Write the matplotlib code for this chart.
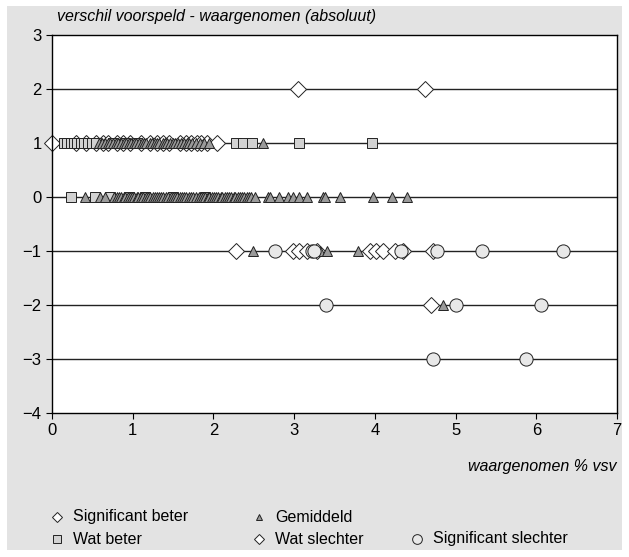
import matplotlib.pyplot as plt
from matplotlib.patches import Rectangle
from matplotlib.lines import Line2D

plt.rcParams['font.family'] = ['Liberation Sans', 'DejaVu Sans']

# Significant beter (diamonds, upper rows)
sig_beter_x = [3.05, 4.62,
               0.0, 0.30, 0.42, 0.55, 0.63, 0.70, 0.80, 0.88, 0.97, 1.10, 1.22, 1.30,
               1.38, 1.45, 1.58, 1.66, 1.72, 1.80, 1.85, 1.92, 2.05]
sig_beter_y = [2, 2,
               1, 1, 1, 1, 1, 1, 1, 1, 1, 1, 1, 1,
               1, 1, 1, 1, 1, 1, 1, 1, 1]

# Wat beter (squares)
wat_beter_x = [0.15, 0.19, 0.23, 0.27, 0.31, 0.36, 0.40, 0.45, 0.50, 0.54, 0.75, 0.90, 1.05,
               2.28, 2.37, 2.48, 3.06, 3.97,
               0.24, 0.53, 0.72, 0.95, 1.15, 1.50, 1.90]
wat_beter_y = [1, 1, 1, 1, 1, 1, 1, 1, 1, 1, 1, 1, 1,
               1, 1, 1, 1, 1,
               0, 0, 0, 0, 0, 0, 0]

# Gemiddeld (triangles)
gemiddeld_x = [0.58, 0.62, 0.66, 0.69, 0.72, 0.76, 0.79, 0.82, 0.86, 0.89, 0.92,
               0.95, 0.98, 1.01, 1.04, 1.08, 1.11, 1.14, 1.17, 1.21, 1.24, 1.27,
               1.30, 1.33, 1.37, 1.40, 1.43, 1.46, 1.50, 1.53, 1.56, 1.60, 1.63,
               1.67, 1.70, 1.74, 1.78, 1.83, 1.88, 1.95, 2.61,
               0.41, 0.60, 0.66, 0.77, 0.80, 0.83, 0.86, 0.89, 0.91, 0.94, 0.97,
               0.99, 1.02, 1.05, 1.07, 1.10, 1.13, 1.16, 1.19, 1.22, 1.25, 1.27,
               1.30, 1.33, 1.35, 1.38, 1.41, 1.44, 1.47, 1.50, 1.53, 1.55, 1.58,
               1.61, 1.63, 1.66, 1.70, 1.72, 1.75, 1.79, 1.82, 1.85, 1.87, 1.90,
               1.93, 1.95, 1.98, 2.01, 2.03, 2.06, 2.09, 2.11, 2.14, 2.17, 2.19,
               2.22, 2.25, 2.27, 2.30, 2.33, 2.35, 2.38, 2.41, 2.44, 2.47, 2.52,
               2.68, 2.70, 2.81, 2.93, 2.99, 3.06, 3.16, 3.36, 3.38, 3.57, 3.98,
               4.21, 4.40,
               2.49, 3.32, 3.41, 3.79,
               4.85]
gemiddeld_y = [1] * 41 + [0] * 79 + [-1] * 4 + [-2]

# Wat slechter (diamonds, lower rows)
wat_slechter_x = [2.28, 2.99, 3.06, 3.16, 3.28, 3.94, 4.02, 4.10, 4.25, 4.35, 4.72,
                  4.70]
wat_slechter_y = [-1, -1, -1, -1, -1, -1, -1, -1, -1, -1, -1,
                  -2]

# Significant slechter (circles)
sig_slechter_x = [2.76, 3.22, 3.25, 4.32, 4.77, 5.33, 6.33,
                  3.39, 5.00, 6.06,
                  4.72, 5.87]
sig_slechter_y = [-1, -1, -1, -1, -1, -1, -1,
                  -2, -2, -2,
                  -3, -3]

x_ticks = [0, 1, 2, 3, 4, 5, 6, 7]
y_ticks = [-4, -3, -2, -1, 0, 1, 2, 3]
grid_levels = [-3, -2, -1, 0, 1, 2]

fig = plt.figure(figsize=(6.29, 5.57), dpi=100, facecolor='white')
fig.add_artist(Rectangle((7 / 629, 7 / 557), 615 / 629, 544 / 557,
                         transform=fig.transFigure, facecolor='#e3e3e3',
                         edgecolor='none', zorder=-10))

ax = fig.add_axes([52 / 629, 1 - 413 / 557, 565 / 629, 378 / 557])
ax.set_facecolor('white')
ax.set_xlim(0, 7)
ax.set_ylim(-4, 3)
for lev in grid_levels:
    ax.axhline(lev, color='#222222', lw=1.0, zorder=1)

edge = '#222222'
ax.plot(sig_beter_x, sig_beter_y, ls='none', marker='D', ms=7.8,
        mfc='white', mec=edge, mew=0.7, zorder=3, clip_on=False)
ax.plot(wat_slechter_x, wat_slechter_y, ls='none', marker='D', ms=7.8,
        mfc='white', mec=edge, mew=0.7, zorder=3)
ax.plot(wat_beter_x, wat_beter_y, ls='none', marker='s', ms=7.5,
        mfc='#d2d2d2', mec=edge, mew=0.7, zorder=4)
ax.plot(gemiddeld_x, gemiddeld_y, ls='none', marker='^', ms=6.5,
        mfc='#9a9a9a', mec=edge, mew=0.7, zorder=5)
ax.plot(sig_slechter_x, sig_slechter_y, ls='none', marker='o', ms=9.5,
        mfc='#e8e8e8', mec=edge, mew=0.7, zorder=6)

ax.set_xticks(x_ticks)
ax.set_yticks(y_ticks)
ax.tick_params(labelsize=12, direction='out', length=4, width=0.8)
for s in ax.spines.values():
    s.set_linewidth(1.0)
    s.set_zorder(10)

fig.text(57 / 629, 1 - 17 / 557, 'verschil voorspeld - waargenomen (absoluut)',
         style='italic', fontsize=11.5, ha='left', va='center')
fig.text(617 / 629, 1 - 466 / 557, 'waargenomen % vsv',
         style='italic', fontsize=11.5, ha='right', va='center')

# legend below the chart
legend_items = [
    (57, 517, 'D', 'white', 'Significant beter', 5.5),
    (57, 539, 's', '#d2d2d2', 'Wat beter', 5.5),
    (259, 517, '^', '#9a9a9a', 'Gemiddeld', 4.5),
    (259, 539, 'D', 'white', 'Wat slechter', 5.5),
    (417, 539, 'o', '#e8e8e8', 'Significant slechter', 7),
]
for px, py, mk, fc, label, ms in legend_items:
    fig.add_artist(Line2D([px / 629], [1 - py / 557], transform=fig.transFigure,
                          ls='none', marker=mk, ms=ms, mfc=fc, mec=edge, mew=0.7))
    fig.text((px + 16) / 629, 1 - py / 557, label, fontsize=11.5,
             ha='left', va='center')

fig.savefig('out.png', dpi=100, facecolor='white')
